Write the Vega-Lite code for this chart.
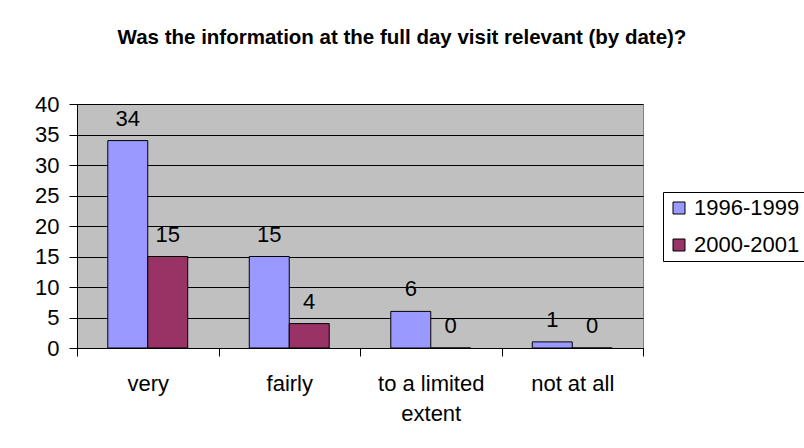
{
  "$schema": "https://vega.github.io/schema/vega-lite/v6.json",
  "width": 566,
  "height": 244,
  "autosize": {"type": "none"},
  "padding": {"left": 77, "top": 104, "right": 161, "bottom": 100},
  "background": "white",
  "title": {
    "text": "Was the information at the full day visit relevant (by date)?",
    "font": "Liberation Sans",
    "fontSize": 20.5,
    "fontWeight": "bold",
    "color": "black",
    "anchor": "middle",
    "frame": "group",
    "baseline": "alphabetic",
    "dx": 42,
    "offset": 29
  },
  "data": {
    "values": [
      {"rating": "very", "period": "1996-1999", "responses": 34},
      {"rating": "very", "period": "2000-2001", "responses": 15},
      {"rating": "fairly", "period": "1996-1999", "responses": 15},
      {"rating": "fairly", "period": "2000-2001", "responses": 4},
      {"rating": "to a limited extent", "period": "1996-1999", "responses": 6},
      {"rating": "to a limited extent", "period": "2000-2001", "responses": 0},
      {"rating": "not at all", "period": "1996-1999", "responses": 1},
      {"rating": "not at all", "period": "2000-2001", "responses": 0}
    ]
  },
  "encoding": {
    "x": {
      "field": "rating",
      "type": "nominal",
      "sort": ["very", "fairly", "to a limited extent", "not at all"],
      "scale": {"paddingInner": 0, "paddingOuter": 0},
      "axis": {
        "title": null,
        "labelAngle": 0,
        "labelFont": "Liberation Sans",
        "labelFontSize": 22,
        "labelColor": "black",
        "labelBaseline": "top",
        "labelLineHeight": 30,
        "labelPadding": 17,
        "labelExpr": "datum.value == 'to a limited extent' ? ['to a limited', 'extent'] : datum.value",
        "domainColor": "black",
        "tickColor": "black",
        "tickSize": 8,
        "tickBand": "extent",
        "grid": false
      }
    },
    "xOffset": {
      "field": "period",
      "type": "nominal",
      "scale": {"paddingInner": 0, "paddingOuter": 0.77}
    },
    "y": {
      "field": "responses",
      "type": "quantitative",
      "scale": {"domain": [0, 40], "nice": false},
      "axis": {
        "title": null,
        "values": [0, 5, 10, 15, 20, 25, 30, 35, 40],
        "labelFont": "Liberation Sans",
        "labelFontSize": 22,
        "labelColor": "black",
        "labelPadding": 10,
        "domainColor": "black",
        "tickColor": "black",
        "tickSize": 8,
        "grid": true,
        "gridColor": "black",
        "gridOpacity": 1
      }
    }
  },
  "layer": [
    {
      "mark": {"type": "bar", "stroke": "black", "strokeWidth": 1},
      "encoding": {
        "color": {
          "field": "period",
          "type": "nominal",
          "scale": {"range": ["#9999FF", "#993366"]},
          "legend": {
            "title": null,
            "orient": "none",
            "legendX": 586,
            "legendY": 88,
            "strokeColor": "black",
            "fillColor": "white",
            "padding": 5,
            "symbolType": "square",
            "symbolSize": 144,
            "symbolStrokeColor": "black",
            "symbolStrokeWidth": 1,
            "symbolOpacity": 1,
            "labelFont": "Liberation Sans",
            "labelFontSize": 22,
            "labelColor": "black",
            "labelOffset": 4,
            "rowPadding": 15
          }
        }
      }
    },
    {
      "mark": {
        "type": "text",
        "baseline": "alphabetic",
        "dy": -15,
        "font": "Liberation Sans",
        "fontSize": 22,
        "color": "black"
      },
      "encoding": {"text": {"field": "responses", "type": "quantitative"}}
    }
  ],
  "config": {
    "view": {"fill": "#C0C0C0", "stroke": "#808080"}
  }
}
